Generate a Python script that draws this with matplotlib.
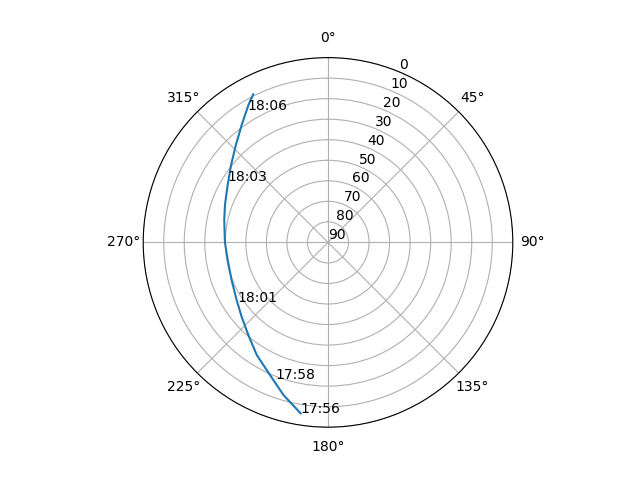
import numpy as np
import matplotlib
matplotlib.use("Agg")
import matplotlib.pyplot as plt

# satellite pass: azimuth (deg, clockwise from N) and elevation (deg)
track_az = [189.1, 196.3, 203.6, 212.3, 220.7, 229.3, 237.8, 248.7, 260.0,
            270.1, 282.2, 290.0, 299.8, 308.6, 316.6, 323.7, 329.9, 333.2]
track_el = [5.7, 12.6, 19.5, 25.1, 30.5, 34.5, 37.4, 39.6, 40.4,
            39.8, 38.3, 36.6, 33.7, 29.6, 24.7, 19.0, 12.7, 9.2]

# time stamps along the pass
label_times = ["17:56", "17:58", "18:01", "18:03", "18:06"]
label_az = [189.1, 201.2, 236.5, 301.4, 328.7]
label_el = [5.7, 18.7, 37.3, 32.6, 14.5]


def main():
    fig = plt.figure(figsize=(6.4, 4.8), dpi=100)
    ax = fig.add_subplot(projection="polar")
    ax.set_theta_zero_location("N")
    ax.set_theta_direction(-1)

    ax.plot(np.radians(track_az), track_el)
    for t, a, e in zip(label_times, label_az, label_el):
        ax.text(np.radians(a), e, t)

    ax.set_ylim(90, 0)
    ax.set_yticks(range(0, 91, 10))

    fig.savefig("out.png", dpi=100)
    plt.close(fig)


if __name__ == "__main__":
    main()
